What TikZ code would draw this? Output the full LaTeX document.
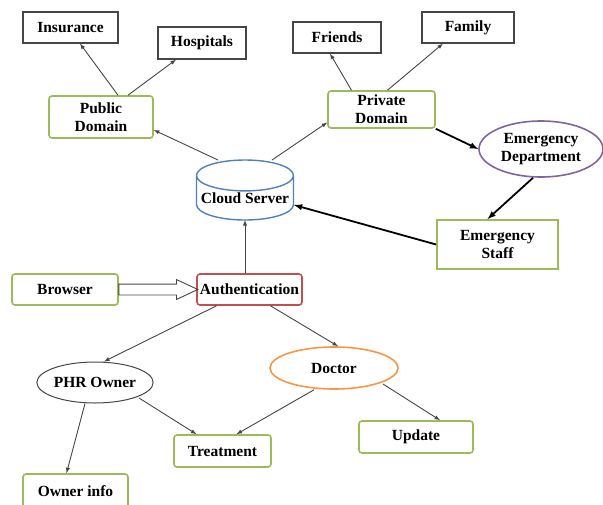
\documentclass[tikz,border=0pt]{standalone}
\usepackage{fontspec}
\setmainfont{Liberation Serif}
\usetikzlibrary{shapes.geometric,shapes.arrows}

\definecolor{verde}{RGB}{155,187,89}
\definecolor{azul}{RGB}{79,129,189}
\definecolor{rojo}{RGB}{192,80,77}
\definecolor{morado}{RGB}{128,100,162}
\definecolor{naranja}{RGB}{247,150,70}
\definecolor{gris}{RGB}{70,70,70}

\tikzset{
  texto/.style={font=\fontsize{15.5}{18}\selectfont\bfseries, align=center, inner sep=0pt},
  caja/.style={texto, draw=gris, line width=1.2pt},
  cajaverde/.style={texto, draw=verde, line width=1.6pt, rounded corners=3pt},
  flecha/.style={draw=gris, line width=0.9pt, -latex},
  flechagruesa/.style={draw=black, line width=1.8pt, -latex}
}

\begin{document}
\begin{tikzpicture}[x=1pt,y=-1pt]
\useasboundingbox (0,0) rectangle (603,504);

% Nodos de arriba
\node[caja, minimum width=95pt, minimum height=31pt] (ins) at (70.5,27.5) {Insurance};
\node[caja, minimum width=88pt, minimum height=32pt] (hos) at (202,43) {Hospitals};
\node[caja, minimum width=88pt, minimum height=31pt] (fri) at (337,37.5) {Friends};
\node[caja, minimum width=92pt, minimum height=31pt] (fam) at (468,27.5) {Family};

% Dominios
\node[cajaverde, minimum width=104pt, minimum height=42pt] (pub) at (101,117) {Public\\Domain};
\node[cajaverde, minimum width=107pt, minimum height=37pt] (priv) at (381.5,109.5) {Private\\Domain};

% Servidor
\node[texto, cylinder, shape border rotate=90, draw=azul, line width=1.4pt,
      aspect=0.35, minimum height=60pt, minimum width=97pt, anchor=shape center] (cloud) at (245,190) {Cloud Server};

% Emergencias
\node[texto, ellipse, draw=morado, line width=1.6pt, minimum width=124pt, minimum height=56pt] (emd) at (541,149) {Emergency\\Department};
\node[texto, draw=verde, line width=1.8pt, minimum width=121pt, minimum height=49pt] (staff) at (497.5,244.5) {Emergency\\Staff};

% Acceso
\node[cajaverde, minimum width=106pt, minimum height=31pt] (bro) at (65,289.5) {Browser};
\node[texto, draw=rojo, line width=1.6pt, rounded corners=3pt, minimum width=105pt, minimum height=31pt] (auth) at (249.5,289.5) {Authentication};

% Usuarios
\node[texto, ellipse, draw=gris, line width=1pt, minimum width=116pt, minimum height=41pt] (phr) at (95,382.5) {PHR Owner};
\node[texto, ellipse, draw=naranja, line width=1.6pt, minimum width=128pt, minimum height=42pt] (doc) at (334,368) {Doctor};
\node[cajaverde, minimum width=97pt, minimum height=32pt] (treat) at (222.5,451) {Treatment};
\node[cajaverde, minimum width=114pt, minimum height=32pt] (upd) at (416,437) {Update};
\node[cajaverde, minimum width=105pt, minimum height=34pt] (own) at (75.5,491) {Owner info};

% Flechas finas
\draw[flecha] ([xshift=17pt]pub.north) -- ([xshift=9.5pt]ins.south);
\draw[flecha] ([xshift=27pt]pub.north) -- ([xshift=-26pt]hos.south);
\draw[flecha] ([xshift=-27pt,yshift=30pt]cloud.shape center) -- ([yshift=-13pt]pub.east);
\draw[flecha] ([xshift=27pt,yshift=30pt]cloud.shape center) -- ([yshift=-13pt]priv.west);
\draw[flecha] ([xshift=-30pt]priv.north) -- ([xshift=-7pt]fri.south);
\draw[flecha] ([xshift=6pt]priv.north) -- ([xshift=-25pt]fam.south);
\draw[flecha] (cloud.shape center |- auth.north) -- ([yshift=-30pt]cloud.shape center);
\draw[flecha] ([xshift=-33pt]auth.south) -- ([xshift=9pt]phr.north);
\draw[flecha] ([xshift=21pt]auth.south) -- ([xshift=4pt]doc.north);
\draw[flecha] ([xshift=-10pt]phr.south) -- ([xshift=-9pt]own.north);
\draw[flecha] ([xshift=44pt,yshift=-15.5pt]phr.center) -- ([xshift=-26pt]treat.north);
\draw[flecha] ([xshift=-20pt]doc.south) -- ([xshift=14pt]treat.north);
\draw[flecha] ([xshift=49pt,yshift=-16pt]doc.center) -- ([xshift=24pt]upd.north);

% Flechas gruesas
\draw[flechagruesa] (priv.south east) -- (emd.west);
\draw[flechagruesa] ([xshift=-8pt]emd.south) -- ([xshift=-10pt]staff.north);
\draw[flechagruesa] (staff.west) -- ([xshift=49pt,yshift=-15pt]cloud.shape center);

% Flecha doble
\path (bro.east) -- (auth.west) node[pos=0, anchor=tail, single arrow, draw=gris, line width=0.9pt,
  minimum height=79pt, minimum width=19pt, inner sep=5pt, outer sep=0pt,
  single arrow head extend=4.5pt, single arrow tip angle=50] {};
\end{tikzpicture}
\end{document}
